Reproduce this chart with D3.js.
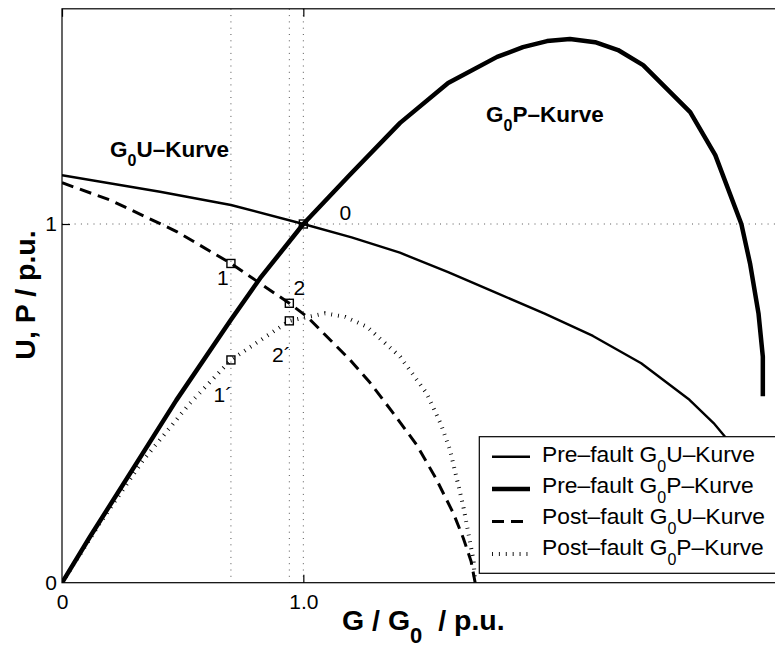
<!DOCTYPE html>
<html lang="de">
<head>
<meta charset="UTF-8">
<title>G0U- und G0P-Kurven</title>
<script src="https://cdn.jsdelivr.net/npm/d3@7"></script>
<style>
  html, body { margin: 0; padding: 0; background: #fff; }
  svg { display: block; font-family: "Liberation Sans", Arial, Helvetica, sans-serif; }
</style>
</head>
<body>
<svg id="chart" width="775" height="646"></svg>
<script>
// ---- data: [G/G0, value] ----
var preU = [[0, 1.136], [0.406, 1.090], [0.70, 1.053], [1.0, 1.0], [1.2, 0.963], [1.4, 0.920],
  [1.6, 0.866], [1.8, 0.808], [2.0, 0.750], [2.2, 0.688], [2.4, 0.612], [2.6, 0.510],
  [2.7, 0.445], [2.75, 0.405], [2.85, 0.30]]
var preP = [[0, 0], [0.116, 0.128], [0.474, 0.509], [0.70, 0.733], [0.821, 0.849], [1.0, 1.0],
  [1.194, 1.138], [1.401, 1.282], [1.600, 1.393], [1.803, 1.466], [1.910, 1.493], [2.010, 1.510],
  [2.105, 1.516], [2.209, 1.507], [2.304, 1.485], [2.408, 1.443], [2.603, 1.312], [2.707, 1.192],
  [2.815, 1.0], [2.851, 0.890], [2.886, 0.751], [2.904, 0.630], [2.904, 0.520]]
var postU = [[0, 1.115], [0.199, 1.067], [0.475, 0.979], [0.70, 0.890], [0.942, 0.779], [1.015, 0.742],
  [1.194, 0.621], [1.276, 0.558], [1.37, 0.475], [1.470, 0.384], [1.55, 0.290], [1.622, 0.193],
  [1.663, 0.124], [1.695, 0.060], [1.712, 0]]
var postP = [[0, 0], [0.157, 0.166], [0.337, 0.342], [0.530, 0.500], [0.70, 0.621], [0.942, 0.730],
  [1.090, 0.751], [1.173, 0.741], [1.263, 0.714], [1.401, 0.630], [1.511, 0.528], [1.571, 0.440],
  [1.608, 0.370], [1.663, 0.212], [1.705, 0.063], [1.712, 0]]

// operating points
var markG = [1.0, 0.70, 0.942, 0.70, 0.942]
var markV = [1.0, 0.890, 0.779, 0.621, 0.730]
var markLabels = ['0', '1', '2', '1´', '2´']

// dotted reference lines
var refG = [0.70, 0.942, 1.0]
var refV = [1.0]

// ticks
var xTicks = [0, 1]
var xTickLabels = ['0', '1.0']
var yTicks = [0, 1]
var yTickLabels = ['0', '1']

var legendParts = [
  ['Pre–fault G', '0', 'U–Kurve'],
  ['Pre–fault G', '0', 'P–Kurve'],
  ['Post–fault G', '0', 'U–Kurve'],
  ['Post–fault G', '0', 'P–Kurve']
]

// ---- layout ----
// (no "top" as a global name: window.top is read-only)
var plotL = 62, plotR = 786, plotT = 8.8, plotB = 582.7
var svg = d3.select('#chart')
svg.append('rect').attr('width', 775).attr('height', 646).attr('fill', '#fff')

var x = d3.scaleLinear().domain([0, 3]).range([plotL, plotR])
var y = d3.scaleLinear().domain([0, 1.6]).range([plotB, plotT])

svg.append('clipPath').attr('id', 'plot')
  .append('rect').attr('x', plotL).attr('y', plotT).attr('width', plotR - plotL).attr('height', plotB - plotT)

var styles = [
  { data: preU, width: 2.4, dash: null },
  { data: preP, width: 4.5, dash: null },
  { data: postU, width: 3, dash: '12,7' },
  { data: postP, width: 4, dash: '0.9,6' }
]

// grid
var grid = svg.append('g').attr('stroke', '#555').attr('stroke-width', 1).attr('stroke-dasharray', '1,5.3')
grid.selectAll('.vref').data(refG).enter().append('line')
  .attr('x1', function (d) { return x(d) }).attr('x2', function (d) { return x(d) })
  .attr('y1', plotT).attr('y2', plotB)
grid.selectAll('.href').data(refV).enter().append('line')
  .attr('y1', function (d) { return y(d) }).attr('y2', function (d) { return y(d) })
  .attr('x1', plotL).attr('x2', plotR)

// curves
var line = d3.line().x(function (d) { return x(d[0]) }).y(function (d) { return y(d[1]) })
var curves = svg.append('g').attr('clip-path', 'url(#plot)')
styles.forEach(function (s) {
  curves.append('path')
    .attr('d', line(s.data))
    .attr('fill', 'none')
    .attr('stroke', '#000')
    .attr('stroke-width', s.width)
    .attr('stroke-linejoin', 'round')
    .attr('stroke-dasharray', s.dash)
})

// markers
var ms = 8
svg.append('g').selectAll('rect').data(markG).enter().append('rect')
  .attr('x', function (d) { return x(d) - ms / 2 })
  .attr('y', function (d, i) { return y(markV[i]) - ms / 2 })
  .attr('width', ms).attr('height', ms)
  .attr('fill', 'none').attr('stroke', '#000').attr('stroke-width', 1.4)

var labelOffset = { '0': [42, -4], '1': [-8, 22], '2': [10, -8], '1´': [-8, 42], '2´': [-8, 41] }
svg.append('g').selectAll('text').data(markLabels).enter().append('text')
  .attr('x', function (d, i) { return x(markG[i]) + labelOffset[d][0] })
  .attr('y', function (d, i) { return y(markV[i]) + labelOffset[d][1] })
  .attr('text-anchor', 'middle')
  .attr('font-size', 21)
  .text(function (d) { return d })

// text with a subscript part
function subText(g, parts, px, py, size, subSize, shift, weight) {
  var t = g.append('text').attr('x', px).attr('y', py)
    .attr('font-size', size).attr('font-weight', weight || 'normal')
  t.append('tspan').text(parts[0])
  t.append('tspan').attr('font-size', subSize).attr('dy', shift).text(parts[1])
  t.append('tspan').attr('dy', -shift).text(parts[2])
  return t
}

subText(svg, ['G', '0', 'U–Kurve'], 110, 156.5, 22.5, 16, 9, 'bold')
subText(svg, ['G', '0', 'P–Kurve'], 486, 122, 22.5, 16, 9, 'bold')

// axes
var xAxis = d3.axisBottom(x).tickValues(xTicks)
  .tickFormat(function (d, i) { return xTickLabels[i] })
  .tickSizeInner(-8).tickSizeOuter(0).tickPadding(11)
var gx = svg.append('g').attr('transform', 'translate(0,' + plotB + ')').call(xAxis)
var gxTop = svg.append('g').attr('transform', 'translate(0,' + plotT + ')')
  .call(d3.axisTop(x).tickValues(xTicks).tickFormat('').tickSizeInner(-8).tickSizeOuter(0))
var yAxis = d3.axisLeft(y).tickValues(yTicks)
  .tickFormat(function (d, i) { return yTickLabels[i] })
  .tickSizeInner(-8).tickSizeOuter(0).tickPadding(5)
var gy = svg.append('g').attr('transform', 'translate(' + plotL + ',0)').call(yAxis)
;[gx, gxTop, gy].forEach(function (g) {
  g.select('.domain').remove()
  g.selectAll('.tick line').attr('stroke', '#000').attr('stroke-width', 1.2)
  g.selectAll('.tick text').attr('font-size', 21).attr('fill', '#000')
    .attr('font-family', '"Liberation Sans", Arial, Helvetica, sans-serif')
})
gx.selectAll('.tick').filter(function (d) { return d === 0 }).select('line').remove()
gy.selectAll('.tick').filter(function (d) { return d === 0 }).select('line').remove()

// legend
var lg = svg.append('g')
lg.append('rect').attr('x', 479.3).attr('y', 436.7).attr('width', 320).attr('height', 136.6)
  .attr('fill', '#fff').attr('stroke', '#000').attr('stroke-width', 1.2)
legendParts.forEach(function (p, i) {
  var by = 461.7 + i * 31.1
  var ly = by - 5 + i * 1.3
  lg.append('line').attr('x1', 492).attr('x2', 530).attr('y1', ly).attr('y2', ly)
    .attr('stroke', '#000').attr('stroke-width', styles[i].width)
    .attr('stroke-dasharray', styles[i].dash)
  subText(lg, p, 542, by, 22.8, 16, 10)
})

// axes box
svg.append('rect').attr('x', plotL).attr('y', plotT).attr('width', plotR - plotL).attr('height', plotB - plotT)
  .attr('fill', 'none').attr('stroke', '#000').attr('stroke-width', 1.2)

// axis labels
subText(svg, ['G / G', '0', '\u00a0\u00a0/ p.u.'], 342, 630, 28.5, 22, 13, 'bold')
svg.append('text')
  .attr('transform', 'translate(35,295) rotate(-90)')
  .attr('text-anchor', 'middle')
  .attr('font-size', 28.5).attr('font-weight', 'bold')
  .text('U, P / p.u.')
</script>
</body>
</html>
